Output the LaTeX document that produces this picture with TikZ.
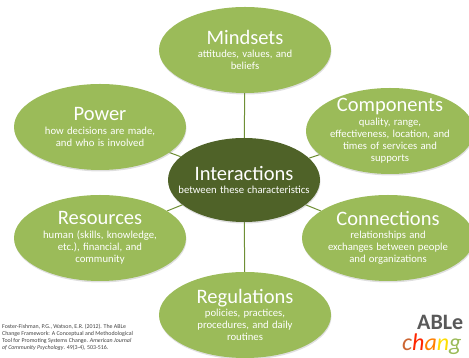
\documentclass[tikz,border=0pt]{standalone}
\usepackage{fontspec}
\setmainfont{Carlito}
\usetikzlibrary{positioning,shapes.geometric,shadows,backgrounds}
\definecolor{lightgreen}{HTML}{9BBB59}
\definecolor{darkgreen}{HTML}{4F6228}
\definecolor{linegreen}{HTML}{6F8F35}
\newcommand{\trait}[2]{{\fontsize{20.5}{21}\selectfont #1\par}\vspace{1pt}{\fontsize{10.7}{12.2}\selectfont #2\par}}
\tikzset{
  trait/.style={ellipse, fill=lightgreen, text=white, align=center, text width=150pt, inner xsep=-40pt, inner ysep=-30pt,
    minimum width=172pt, minimum height=86pt,
    drop shadow={opacity=0.25, shadow xshift=0.5pt, shadow yshift=-1.5pt}},
  hub/.style={trait, fill=darkgreen, minimum width=152pt, minimum height=84pt},
  spoke/.style={draw=linegreen, line width=1pt}
}
\begin{document}
\begin{tikzpicture}[x=1pt, y=1pt, on grid]
\useasboundingbox (0,0) rectangle (469,358);
\clip (0,0) rectangle (469,358);
\node [hub] (interactions) at (244,178) {\trait{Interactions}{between these characteristics}};
\node [trait] (mindsets) [above right=130pt and 1pt of interactions] {\trait{Mindsets}{attitudes, values, and\\beliefs}};
\node [trait] (power) [above left=53pt and 144pt of interactions] {\trait{Power}{how decisions are made,\\and who is involved}};
\node [trait, minimum width=168pt] (components) [above right=49pt and 146pt of interactions] {\trait{Components}{quality, range,\\effectiveness, location, and\\times of services and\\supports}};
\node [trait] (resources) [below left=58pt and 144pt of interactions] {\trait{Resources}{human (skills, knowledge,\\etc.), financial, and\\community}};
\node [trait] (connections) [below right=58pt and 144pt of interactions] {\trait{Connections}{relationships and\\exchanges between people\\and organizations}};
\node [trait] (regulations) [below right=135pt and 1pt of interactions] {\trait{Regulations}{policies, practices,\\procedures, and daily\\routines}};
\begin{scope}[on background layer]
\draw [spoke] (interactions) -- (mindsets);
\draw [spoke] (interactions) -- (power);
\draw [spoke] (interactions) -- (components);
\draw [spoke] (interactions) -- (resources);
\draw [spoke] (interactions) -- (connections);
\draw [spoke] (interactions) -- (regulations);
\end{scope}
\node (citation) [anchor=north west, align=left, text=black!75, inner sep=0pt, font=\fontsize{5.9}{7.3}\selectfont] at (2,34.5) {Foster-Fishman, P.G., Watson, E.R. (2012). The ABLe\\Change Framework: A Conceptual and Methodological\\Tool for Promoting Systems Change. \textit{American Journal}\\\textit{of Community Psychology}. 49(3-4), 503-516.};
\node (able) [anchor=base west, inner sep=0pt, text=black!65, font=\fontsize{22}{22}\selectfont\bfseries] at (417,28) {ABLe};
\node (chang) [anchor=base west, inner sep=0pt, font=\fontsize{24}{24}\selectfont\itshape] at (402,7) {\textcolor{brown!80!red}{c}\textcolor{red!70!orange}{h}\textcolor{orange}{a}\textcolor{yellow!80!orange}{n}\textcolor{lightgreen}{g}};
\end{tikzpicture}
\end{document}
